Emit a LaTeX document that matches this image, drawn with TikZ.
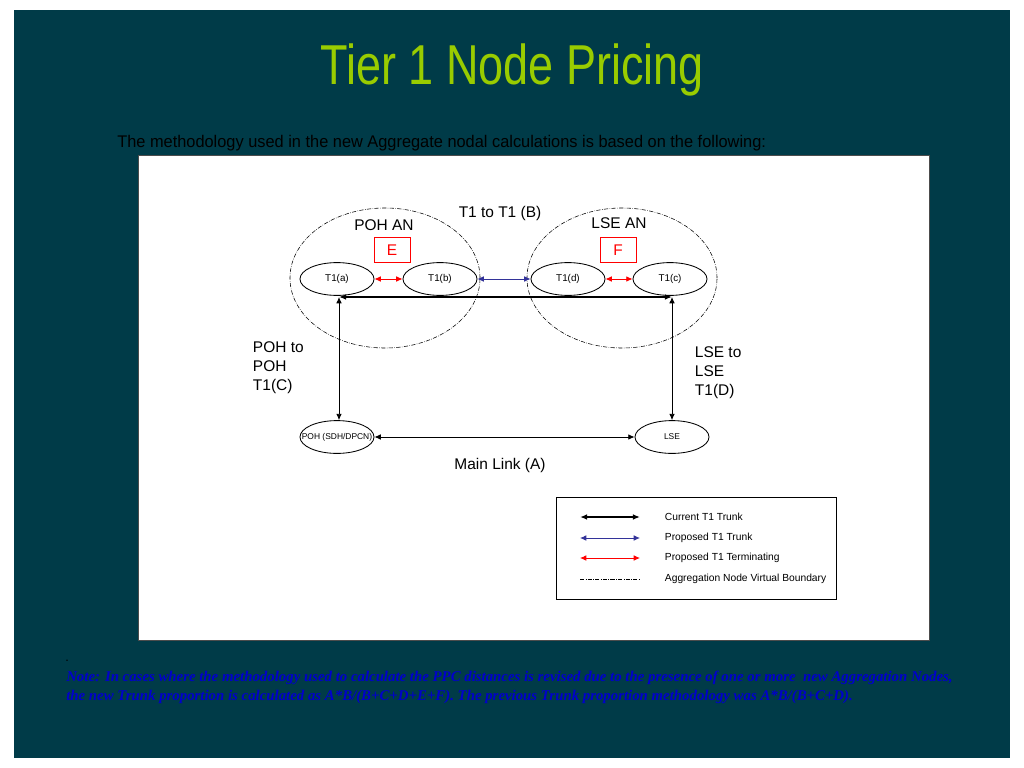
\documentclass[tikz,border=0pt]{standalone}
\usepackage{fontspec}
\setmainfont{Liberation Sans}
\newfontfamily\notefont{Liberation Serif}
\usepackage{graphicx}
\usetikzlibrary{shapes.geometric,arrows.meta,positioning}
\definecolor{slidebg}{RGB}{0,59,72}
\definecolor{titlegreen}{RGB}{153,204,0}
\definecolor{noteblue}{RGB}{0,0,204}
\definecolor{proposed}{RGB}{51,51,153}
\definecolor{terminating}{RGB}{255,0,0}

\tikzset{
  t1node/.style={ellipse, draw, line width=0.6pt, minimum width=1.85cm,
    minimum height=0.82cm, inner sep=0pt, font=\fontsize{7}{8}\selectfont},
  anboundary/.style={ellipse, draw, densely dashdotted, line width=0.4pt,
    minimum width=4.75cm, minimum height=3.5cm},
  anlabel/.style={font=\fontsize{11}{13.5}\selectfont, align=left},
  letterbox/.style={draw=terminating, text=terminating, line width=0.5pt,
    minimum width=0.9cm, minimum height=0.62cm, anchor=center,
    font=\fontsize{11}{13}\selectfont},
  currenttrunk/.style={{Latex[length=5pt,width=4pt]}-{Latex[length=5pt,width=4pt]}, line width=1.4pt},
  thinlink/.style={{Latex[length=4.5pt,width=4pt]}-{Latex[length=4.5pt,width=4pt]}, line width=0.6pt},
  proposedtrunk/.style={thinlink, draw=proposed},
  proposedterm/.style={thinlink, draw=terminating},
  legendtext/.style={anchor=west, font=\fontsize{7.3}{8}\selectfont}
}

\begin{document}
\begin{tikzpicture}[x=0.025cm, y=-0.025cm]
  \useasboundingbox (0,0) rectangle (1024,768);
  \fill[white] (0,0) rectangle (1024,768);
  \fill[slidebg] (14,10) rectangle (1010,758);

  % title and intro
  \node (title) at (512,70) {\scalebox{0.8}[1]{\color{titlegreen}\fontsize{40}{44}\selectfont Tier 1 Node Pricing}};
  \node[anchor=west, inner sep=0pt] (intro) at (117,143) {\scalebox{0.97}[1]{\fontsize{12}{14}\selectfont The methodology used in the new Aggregate nodal calculations is based on the following:}};

  % white panel
  \fill[white, draw=black!70, line width=0.4pt] (138,155) rectangle (929,640);

  % aggregation node boundaries
  \node[anboundary] (pohan) at (385,278) {};
  \node[anboundary] (lsean) at (622,278) {};
  \node[anlabel] (pohlabel) at (384,225) {POH AN};
  \node[anlabel] (lselabel) at (619,223) {LSE AN};
  \node[anlabel] (t1t1) at (500,213) {T1 to T1 (B)};
  \node[letterbox] (e) at (392,250) {E};
  \node[letterbox] (f) at (618,250) {F};

  % T1 nodes
  \node[t1node] (a) at (337,279) {T1(a)};
  \node[t1node] (b) at (440,279) {T1(b)};
  \node[t1node] (d) at (568,279) {T1(d)};
  \node[t1node] (c) at (670,279) {T1(c)};
  \node[t1node] (poh) at (337,437) {\makebox[0pt]{\fontsize{6}{7}\selectfont POH (SDH/DPCN)}};
  \node[t1node] (lse) at (672,437) {\fontsize{6}{7}\selectfont LSE};

  % links
  \draw[proposedterm] (a) -- (b);
  \draw[proposedterm] (d) -- (c);
  \draw[proposedtrunk] (b) -- (d);
  \coordinate (atrunk) at (339,297);
  \coordinate (ctrunk) at (672,297);
  \draw[currenttrunk] (atrunk) -- (ctrunk);
  \draw[thinlink] (atrunk) -- (poh.north -| atrunk);
  \draw[thinlink] (ctrunk) -- (lse.north -| ctrunk);
  \draw[thinlink] (poh) -- (lse);

  \node[anlabel, anchor=north west] (pohpoh) at (248,337) {POH to\\POH\\T1(C)};
  \node[anlabel, anchor=north west] (lselse) at (690,342) {LSE to\\LSE\\T1(D)};
  \node[anlabel] (mainlink) at (500,465) {Main Link (A)};

  % legend
  \draw[line width=0.6pt] (556,497) rectangle (836,599);
  \coordinate (l1a) at (580,517); \coordinate (l1b) at (640,517);
  \coordinate (l2a) at (580,538); \coordinate (l2b) at (640,538);
  \coordinate (l3a) at (580,558); \coordinate (l3b) at (640,558);
  \coordinate (l4a) at (580,579); \coordinate (l4b) at (640,579);
  \draw[currenttrunk] (l1a) -- (l1b);
  \draw[proposedtrunk] (l2a) -- (l2b);
  \draw[proposedterm] (l3a) -- (l3b);
  \draw[densely dashdotted, line width=0.4pt] (l4a) -- (l4b);
  \node[legendtext] at (660,517) {Current T1 Trunk};
  \node[legendtext] at (660,538) {Proposed T1 Trunk};
  \node[legendtext] at (660,558) {Proposed T1 Terminating};
  \node[legendtext] at (660,579) {Aggregation Node Virtual Boundary};

  % note
  \node[anchor=south west, inner sep=0pt, font=\fontsize{9}{9}\selectfont] (dot) at (65,662) {.};
  \node[anchor=north west, inner sep=0pt, align=left, text=noteblue,
    font=\notefont\bfseries\itshape\fontsize{10.55}{13.5}\selectfont] (note) at (66,671)
    {Note: In cases where the methodology used to calculate the PPC distances is revised due to the presence of one or more\ \ new Aggregation Nodes,\\
     the new Trunk proportion is calculated as A*B/(B+C+D+E+F). The previous Trunk proportion methodology was A*B/(B+C+D).};
\end{tikzpicture}
\end{document}
